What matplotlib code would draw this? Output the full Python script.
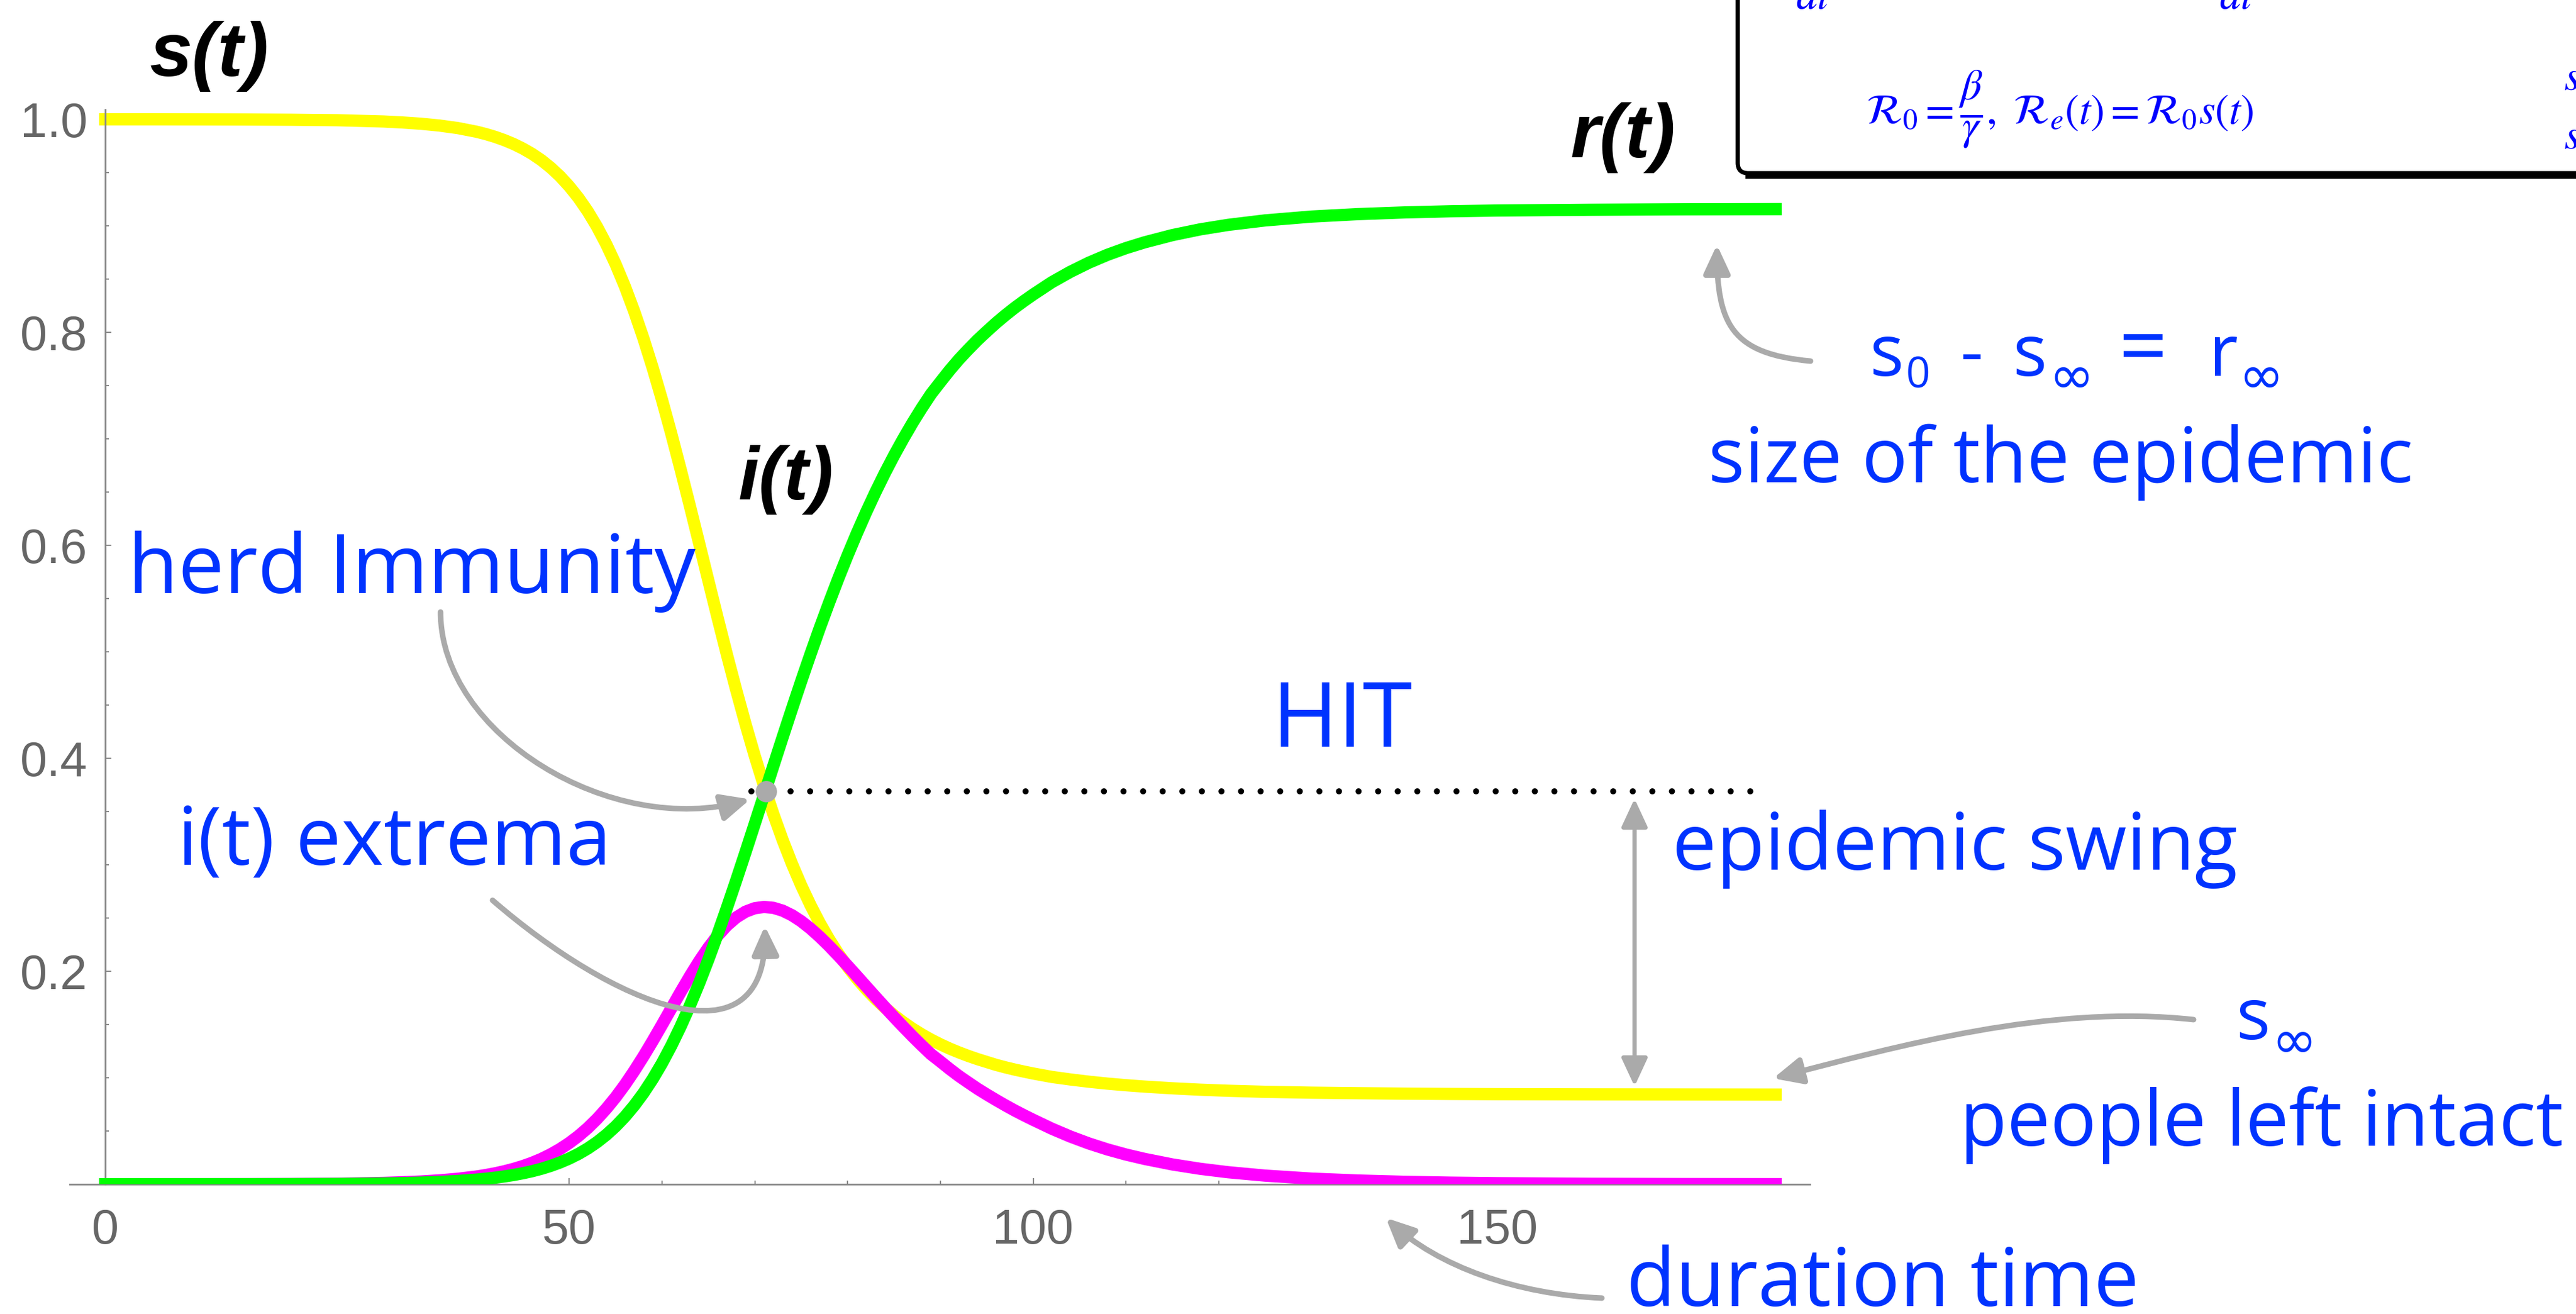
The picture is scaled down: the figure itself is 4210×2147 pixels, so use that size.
import matplotlib
matplotlib.use("Agg")
import matplotlib.pyplot as plt
from matplotlib.patches import FancyArrowPatch, ArrowStyle, PathPatch
from matplotlib.path import Path
from matplotlib.ticker import MultipleLocator

# ---------------- data ----------------
t = [0, 5, 10, 15, 20, 25, 30, 32, 34, 36, 38, 40, 41, 42, 43, 44, 45, 46, 47, 48,
     49, 50, 51, 52, 53, 54, 55, 56, 57, 58, 59, 60, 61, 62, 63, 64, 65, 66, 67, 68,
     69, 70, 71, 72, 73, 74, 75, 76, 77, 78, 79, 80, 81, 82, 83, 84, 85, 86, 87, 88,
     89, 90, 91, 92, 93, 94, 95, 96, 97, 98, 99, 100, 102, 104, 106, 108, 110, 112,
     115, 118, 121, 125, 130, 135, 140, 145, 150, 160, 170, 180]
s = [1.0, 1.0, 0.99994, 0.99985, 0.99965, 0.9992, 0.998, 0.9971, 0.9959, 0.9942,
     0.9918, 0.9884, 0.9862, 0.9836, 0.9805, 0.9769, 0.9726, 0.9676, 0.9617, 0.9547,
     0.9466, 0.9371, 0.9262, 0.9136, 0.8991, 0.8826, 0.864, 0.8431, 0.8198, 0.7943,
     0.7665, 0.7366, 0.7048, 0.6715, 0.6371, 0.602, 0.5667, 0.5316, 0.4972, 0.464,
     0.4322, 0.4021, 0.3739, 0.3476, 0.3233, 0.301, 0.2806, 0.2621, 0.2453, 0.2302,
     0.2165, 0.2042, 0.1931, 0.1831, 0.1741, 0.166, 0.1587, 0.1521, 0.1461, 0.1407,
     0.1358, 0.1314, 0.1274, 0.1238, 0.1205, 0.1175, 0.1148, 0.1121, 0.1098, 0.1077,
     0.1058, 0.104, 0.1008, 0.0984, 0.0963, 0.0945, 0.093, 0.0917, 0.0901, 0.0888,
     0.0878, 0.0868, 0.086, 0.0855, 0.0851, 0.0848, 0.0846, 0.0844, 0.0843, 0.0842]
i = [0.0, 0.00002, 0.00004, 0.0001, 0.00022, 0.0005, 0.00126, 0.00182, 0.00257,
     0.00364, 0.00514, 0.00726, 0.00863, 0.01025, 0.01218, 0.01441, 0.01707, 0.02016,
     0.02378, 0.02807, 0.033, 0.03875, 0.0453, 0.05281, 0.06136, 0.07098, 0.08166,
     0.09345, 0.10634, 0.12009, 0.13464, 0.14975, 0.16515, 0.18045, 0.19531, 0.20934,
     0.22218, 0.23351, 0.24304, 0.25055, 0.25595, 0.25922, 0.26039, 0.25957, 0.25693,
     0.25266, 0.24697, 0.24012, 0.2323, 0.22378, 0.21467, 0.20522, 0.19554, 0.18578,
     0.17604, 0.16643, 0.15701, 0.14782, 0.13886, 0.13026, 0.12198, 0.1152, 0.1082,
     0.1016, 0.0956, 0.0897, 0.0843, 0.0791, 0.0741, 0.0693, 0.0648, 0.0605, 0.0522,
     0.0448, 0.0383, 0.0327, 0.0279, 0.0238, 0.0186, 0.0145, 0.0113, 0.0081, 0.0053,
     0.0035, 0.0023, 0.0015, 0.001, 0.00045, 0.0002, 0.0001]
r = [0.0, 0.0, 0.00002, 0.00005, 0.00013, 0.0003, 0.00074, 0.00108, 0.00153, 0.00216,
     0.00306, 0.00434, 0.00517, 0.00615, 0.00732, 0.00869, 0.01033, 0.01224, 0.01452,
     0.01723, 0.0204, 0.02415, 0.0285, 0.03359, 0.03954, 0.04642, 0.05434, 0.06345,
     0.07386, 0.08561, 0.09886, 0.11365, 0.13005, 0.14805, 0.16759, 0.18866, 0.21112,
     0.23489, 0.25976, 0.28545, 0.31185, 0.33868, 0.36571, 0.39283, 0.41977, 0.44634,
     0.47243, 0.49778, 0.5224, 0.54602, 0.56883, 0.59058, 0.61136, 0.63112, 0.64986,
     0.66757, 0.68429, 0.70008, 0.71504, 0.72904, 0.74222, 0.7534, 0.7644, 0.7746,
     0.7839, 0.7928, 0.8009, 0.8088, 0.8161, 0.823, 0.8294, 0.8355, 0.847, 0.8568,
     0.8654, 0.8728, 0.8791, 0.8845, 0.8913, 0.8967, 0.9009, 0.9051, 0.9087, 0.911,
     0.9126, 0.9137, 0.9144, 0.9151, 0.9155, 0.9157]

x_ticks = [0, 50, 100, 150]
y_ticks = [0.2, 0.4, 0.6, 0.8, 1.0]
hit_t, hit_v = 71.2, 0.369
hit_line_t = [69.6, 178.0]
swing_t = 164.8
swing_v = [0.092, 0.362]

# ---------------- figure ----------------
W, H = 4210, 2147
fig = plt.figure(figsize=(W / 100, H / 100), dpi=100)
fig.patch.set_facecolor('white')

ax = fig.add_axes([114 / W, 1 - 1935 / H, (2958 - 114) / W, (1935 - 179) / H])
ax.patch.set_alpha(0)
ax.set_xlim(-3.82, 183.7)
ax.set_ylim(0, 1.0092)
for sp in ['top', 'right']:
    ax.spines[sp].set_visible(False)
ax.spines['left'].set_position(('data', 0))
for sp in ['left', 'bottom']:
    ax.spines[sp].set_color('#8a8a8a')
    ax.spines[sp].set_linewidth(2)

ax.set_xticks(x_ticks)
ax.set_xticklabels([str(v) for v in x_ticks])
ax.xaxis.set_minor_locator(MultipleLocator(10))
ax.set_yticks(y_ticks)
ax.set_yticklabels([f'{v:.1f}' for v in y_ticks])
ax.yaxis.set_minor_locator(MultipleLocator(0.05))
ax.tick_params(which='both', direction='in', color='#8a8a8a', width=1.5)
ax.tick_params(which='major', length=7)
ax.tick_params(which='minor', length=4)
ax.tick_params(axis='x', which='major', pad=28, labelsize=57, labelcolor='#666666')
ax.tick_params(axis='y', which='major', pad=21, labelsize=57, labelcolor='#666666')
for lab in ax.get_xticklabels() + ax.get_yticklabels():
    lab.set_fontfamily('Liberation Sans')

lw = 14.4
ax.plot(t, s, color='#ffff00', lw=lw, solid_capstyle='projecting',
        solid_joinstyle='round', zorder=2)
ax.plot(t, i, color='#ff00ff', lw=lw, solid_capstyle='projecting',
        solid_joinstyle='round', zorder=3)
ax.plot(t, r, color='#00ff00', lw=lw, solid_capstyle='projecting',
        solid_joinstyle='round', zorder=4)

ax.plot(hit_line_t, [hit_v, hit_v], color='black', lw=7.2,
        linestyle=(0, (0.001, 3.2)), dash_capstyle='round', zorder=5)
ax.plot([hit_t], [hit_v], 'o', ms=25, color='#aaaaaa', mew=0, zorder=6)

gray = '#aaaaaa'
ax.annotate('', xy=(swing_t, swing_v[1]), xytext=(swing_t, swing_v[0]),
            arrowprops=dict(arrowstyle=ArrowStyle('<|-|>', head_length=28, head_width=13),
                            color=gray, lw=5, shrinkA=0, shrinkB=0, mutation_scale=1),
            zorder=7)


def fx(x):
    return x / W


def fy(y):
    return 1 - y / H


def curved_arrow(pts):
    verts = [(fx(x), fy(y)) for x, y in pts]
    p = Path(verts, [Path.MOVETO, Path.CURVE4, Path.CURVE4, Path.CURVE4])
    a = FancyArrowPatch(path=p, arrowstyle=ArrowStyle('-|>', head_length=28, head_width=13),
                        color=gray, lw=6.5, mutation_scale=1,
                        transform=fig.transFigure, zorder=7)
    fig.add_artist(a)


curved_arrow([(720, 1000), (720, 1200), (1000, 1370), (1226, 1306)])
curved_arrow([(805, 1471), (1000, 1640), (1255, 1750), (1250, 1513)])
curved_arrow([(2959, 590), (2830, 578), (2806, 530), (2806, 400)])
curved_arrow([(3585, 1666), (3350, 1640), (3100, 1710), (2898, 1762)])
curved_arrow([(2618, 2121), (2480, 2115), (2350, 2070), (2265, 1990)])

renderer = fig.canvas.get_renderer()


def fit_text(x_left, y_base, x_right, txt, size0, scale=1.0, **kw):
    tx = fig.text(fx(x_left), fy(y_base), txt, fontsize=size0, ha='left',
                  va='baseline', **kw)
    bb = tx.get_window_extent(renderer=renderer)
    tx.set_fontsize(size0 * scale * (x_right - x_left) / bb.width)
    if scale != 1.0:
        tx.set_horizontalalignment('center')
        tx.set_x(fx((x_left + x_right) / 2))
    return tx


def piece(x_left, y_base, txt, size, family='Open Sans', **kw):
    return fig.text(fx(x_left), fy(y_base), txt, fontsize=size, ha='left',
                    va='baseline', family=family, **kw)


blue = '#0033ff'
hand = dict(color=blue, family='Open Sans', zorder=8)
fit_text(209, 969, 1137, 'herd Immunity', 88, **hand)
fit_text(2079, 1220, 2309, 'HIT', 88, **hand)
fit_text(290, 1413, 999, 'i(t) extrema', 88, **hand)
fit_text(2733, 1421, 3657, 'epidemic swing', 88, **hand)
fit_text(2792, 788, 3945, 'size of the epidemic', 88, **hand)
fit_text(3203, 1872, 4189, 'people left intact', 88, **hand)
fit_text(2658, 2134, 3496, 'duration time', 88, **hand)

# s0 - s_inf = r_inf, written piece by piece
pk = dict(color=blue, zorder=8)
piece(3055, 614, 's', 84, **pk)
piece(3114, 633, '0', 50, **pk)
piece(3203, 614, '-', 84, **pk)
piece(3289, 614, 's', 84, **pk)
piece(3348, 643, '\u221e', 64, family='DejaVu Sans', **pk)
piece(3462, 614, '=', 100, **pk)
piece(3610, 614, 'r', 84, **pk)
piece(3658, 643, '\u221e', 64, family='DejaVu Sans', **pk)
# s_inf
piece(3654, 1698, 's', 84, **pk)
piece(3712, 1729, '\u221e', 64, family='DejaVu Sans', **pk)

lab = dict(color='black', family='Liberation Sans', fontweight='bold',
           fontstyle='italic', zorder=8)
fit_text(245, 124, 440, 's(t)', 88, **lab)
fit_text(1207, 816, 1363, 'i(t)', 88, **lab)
fit_text(2567, 257, 2739, 'r(t)', 88, **lab)

# equation box (partly outside the picture)
box = Path([(fx(2840), fy(-30)), (fx(2840), fy(266)), (fx(2840), fy(283)),
            (fx(2857), fy(283)), (fx(4240), fy(283))],
           [Path.MOVETO, Path.LINETO, Path.CURVE3, Path.CURVE3, Path.LINETO])
fig.add_artist(PathPatch(box, fill=False, lw=5, edgecolor='black',
                         transform=fig.transFigure, zorder=8))
fig.add_artist(PathPatch(Path([(fx(2852), fy(286)), (fx(4240), fy(286))]),
                         fill=False, lw=8, edgecolor='black',
                         transform=fig.transFigure, zorder=8))

eq = dict(color='#0000ff', math_fontfamily='stix', zorder=9)
fit_text(3079, 203, 3654,
         r'$\mathcal{R}_0=\dfrac{\beta}{\gamma},\ \mathcal{R}_e(t)=\mathcal{R}_0 s(t)$',
         47, scale=1.1, **eq)
fig.text(fx(2935), fy(14), r'$dt$', fontsize=50, ha='left', va='baseline', **eq)
fig.text(fx(3627), fy(14), r'$dt$', fontsize=50, ha='left', va='baseline', **eq)
fig.text(fx(4190), fy(147), r'$s$', fontsize=50, ha='left', va='baseline', **eq)
fig.text(fx(4190), fy(243), r'$s$', fontsize=50, ha='left', va='baseline', **eq)

fig.savefig('out.png', dpi=100, facecolor='white')
